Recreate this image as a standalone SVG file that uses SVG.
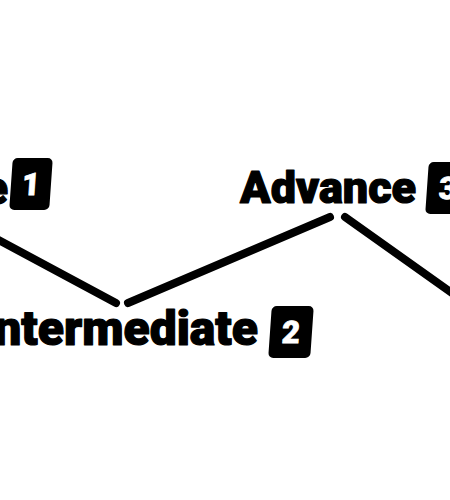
<svg xmlns="http://www.w3.org/2000/svg" width="450" height="500" viewBox="0 0 450 500">
<style>
.lbl{font-family:Roboto,"Liberation Sans",sans-serif;font-weight:900;font-size:46px;fill:#000;stroke:#000;stroke-width:1.2;stroke-linejoin:round}
.lbl.big{font-size:48px}
.lbl.adv{font-size:45px}
.badge{fill:#000}
.num{font-family:Roboto,"Liberation Sans",sans-serif;font-weight:900;font-size:31px;fill:#fff;stroke:#fff;stroke-width:0.8;text-anchor:middle}
.edge{stroke:#000;stroke-width:8;stroke-linecap:round;fill:none}
</style>
<rect width="450" height="500" fill="#fff"/>
<g id="connectors">
<line class="edge" x1="-20" y1="230" x2="116" y2="303"/>
<line class="edge" x1="128" y1="303" x2="330" y2="217"/>
<line class="edge" x1="345" y1="217" x2="480" y2="313"/>
</g>
<g id="node1">
<text class="lbl" x="8" y="204" text-anchor="end">Novice</text>
<g transform="translate(31,184) skewX(-4)">
<rect class="badge" x="-20" y="-26" width="40" height="52" rx="5"/>
<text class="num" x="0" y="11">1</text>
</g>
</g>
<g id="node2">
<text class="lbl big" x="258" y="345" text-anchor="end">Intermediate</text>
<g transform="translate(291,332) skewX(-4)">
<rect class="badge" x="-21" y="-26" width="42" height="52" rx="5"/>
<text class="num" x="0" y="11">2</text>
</g>
</g>
<g id="node3">
<text class="lbl adv" x="240" y="203">Advance</text>
<g transform="translate(448,188) skewX(-4)">
<rect class="badge" x="-21" y="-26" width="42" height="52" rx="5"/>
<text class="num" x="0" y="11">3</text>
</g>
</g>
</svg>
